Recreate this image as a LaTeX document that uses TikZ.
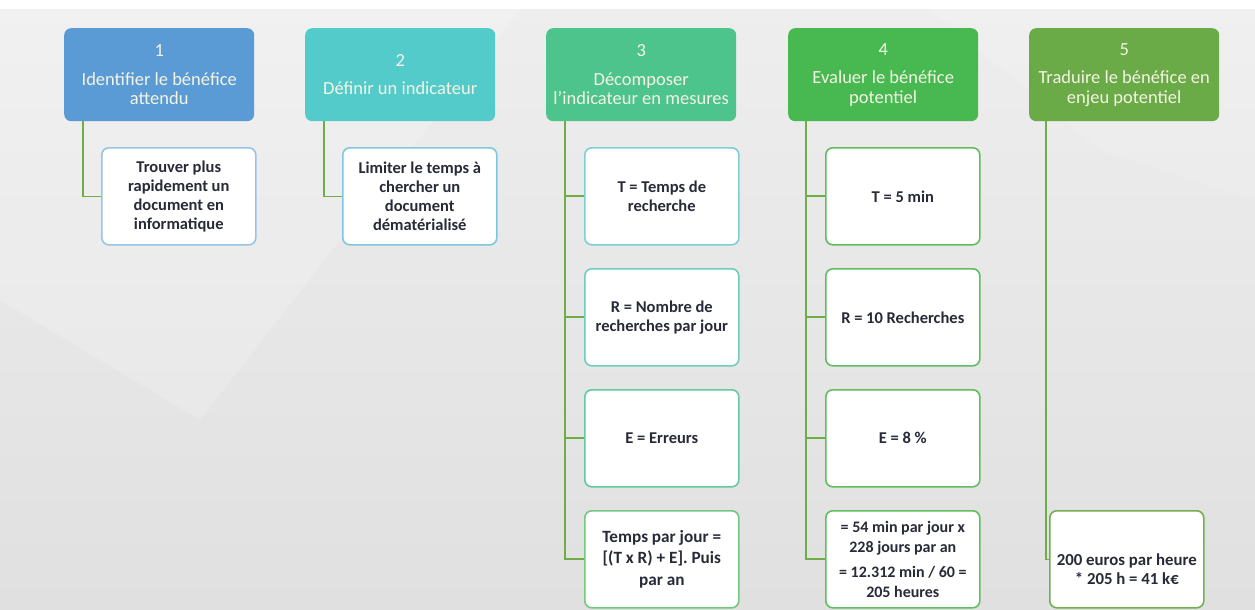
\documentclass[tikz,border=0pt]{standalone}
\usepackage{fontspec}
\setmainfont{Carlito}
\usetikzlibrary{positioning}
\definecolor{bgtop}{RGB}{238,238,238}
\definecolor{bgbot}{RGB}{224,224,224}
\definecolor{hA}{RGB}{91,155,213}
\definecolor{hB}{RGB}{84,203,203}
\definecolor{hC}{RGB}{76,196,140}
\definecolor{hD}{RGB}{71,185,80}
\definecolor{hE}{RGB}{106,170,71}
\definecolor{bA}{RGB}{150,195,232}
\definecolor{bB}{RGB}{125,200,222}
\definecolor{bC}{RGB}{125,208,210}
\definecolor{bCb}{RGB}{110,205,190}
\definecolor{bCc}{RGB}{100,200,160}
\definecolor{bCd}{RGB}{115,200,125}
\definecolor{bD}{RGB}{95,190,95}
\definecolor{bE}{RGB}{115,175,80}
\definecolor{conn}{RGB}{112,173,71}
\definecolor{hdrtext}{RGB}{244,244,228}
\definecolor{childtext}{RGB}{40,42,55}
\tikzset{
  hdr/.style={rounded corners=7pt, minimum width=190pt, minimum height=93pt, inner sep=0pt,
    text=hdrtext, align=center, anchor=north west, font=\fontsize{18.5}{19.5}\selectfont},
  child/.style={draw, line width=1.6pt, fill=white, rounded corners=7pt, minimum width=154pt,
    minimum height=97pt, inner sep=0pt, text=childtext, align=center, anchor=north west,
    font=\bfseries\fontsize{16.5}{19}\selectfont},
  link/.style={draw=conn, line width=1.8pt},
}
\begin{document}
\begin{tikzpicture}[x=1pt,y=-1pt]
\useasboundingbox (0,0) rectangle (1255,610);
\fill[top color=bgtop, bottom color=bgbot] (0,0) rectangle (1255,610);
\fill[white] (0,0) rectangle (1255,9);
\begin{scope}
\clip (0,9) rectangle (1255,610);
\fill[white, opacity=0.18] (0,9) -- (520,9) -- (200,420) -- (0,300) -- cycle;
\fill[white, opacity=0.12] (930,9) -- (1255,9) -- (1255,200) -- (1100,150) -- cycle;
\end{scope}
% headers
\node[hdr, fill=hA] (h1) at (64,28) {1\\[9pt]Identifier le bénéfice\\attendu};
\node[hdr, fill=hB] (h2) at (305,28) {2\\[9pt]Définir un indicateur};
\node[hdr, fill=hC] (h3) at (546,28) {3\\[9pt]Décomposer\\l’indicateur en mesures};
\node[hdr, fill=hD] (h4) at (788,28) {4\\[9pt]Evaluer le bénéfice\\potentiel};
\node[hdr, fill=hE] (h5) at (1029,28) {5\\[9pt]Traduire le bénéfice en\\enjeu potentiel};
% children
\node[child, draw=bA] (c1) at (101,147) {Trouver plus\\rapidement un\\document en\\informatique};
\node[child, draw=bB] (c2) at (342,147) {Limiter le temps à\\chercher un\\document\\dématérialisé};
\node[child, draw=bC] (c3a) at (584,147) {T = Temps de\\recherche};
\node[child, draw=bCb] (c3b) at (584,268) {R = Nombre de\\recherches par jour};
\node[child, draw=bCc] (c3c) at (584,389) {E = Erreurs};
\node[child, draw=bCd, font=\bfseries\fontsize{17.2}{21.5}\selectfont] (c3d) at (584,510) {Temps par jour =\\{}[(T x R) + E]. Puis\\par an};
\node[child, draw=bD] (c4a) at (825,147) {T = 5 min};
\node[child, draw=bD] (c4b) at (825,268) {R = 10 Recherches};
\node[child, draw=bD] (c4c) at (825,389) {E = 8 \%};
\node[child, draw=bD, font=\bfseries\fontsize{16}{19.5}\selectfont] (c4d) at (825,510) {= 54 min par jour x\\228 jours par an\\[6pt]= 12.312 min / 60 =\\205 heures};
\node[child, draw=bE, label={[yshift=-10pt, text=childtext, font=\bfseries\fontsize{16.8}{18.5}\selectfont, align=center]center:200 euros par heure\\* 205 h = 41 k€}] (c5) at (1049,510) {};
% connectors
\coordinate (t1) at ([xshift=19pt]h1.south west);
\coordinate (t2) at ([xshift=19pt]h2.south west);
\coordinate (t3) at ([xshift=19pt]h3.south west);
\coordinate (t4) at ([xshift=18pt]h4.south west);
\coordinate (t5) at ([xshift=17pt]h5.south west);
\draw[link, line width=1.4pt] (t1) |- (c1.west);
\draw[link, line width=1.4pt] (t2) |- (c2.west);
\draw[link] (t3) |- (c3d.west);
\draw[link] (c3a.west) -- (c3a.west -| t3);
\draw[link] (c3b.west) -- (c3b.west -| t3);
\draw[link] (c3c.west) -- (c3c.west -| t3);
\draw[link] (t4) |- (c4d.west);
\draw[link] (c4a.west) -- (c4a.west -| t4);
\draw[link] (c4b.west) -- (c4b.west -| t4);
\draw[link] (c4c.west) -- (c4c.west -| t4);
\draw[link, line width=1.4pt] (t5) |- (c5.west);
\end{tikzpicture}
\end{document}
